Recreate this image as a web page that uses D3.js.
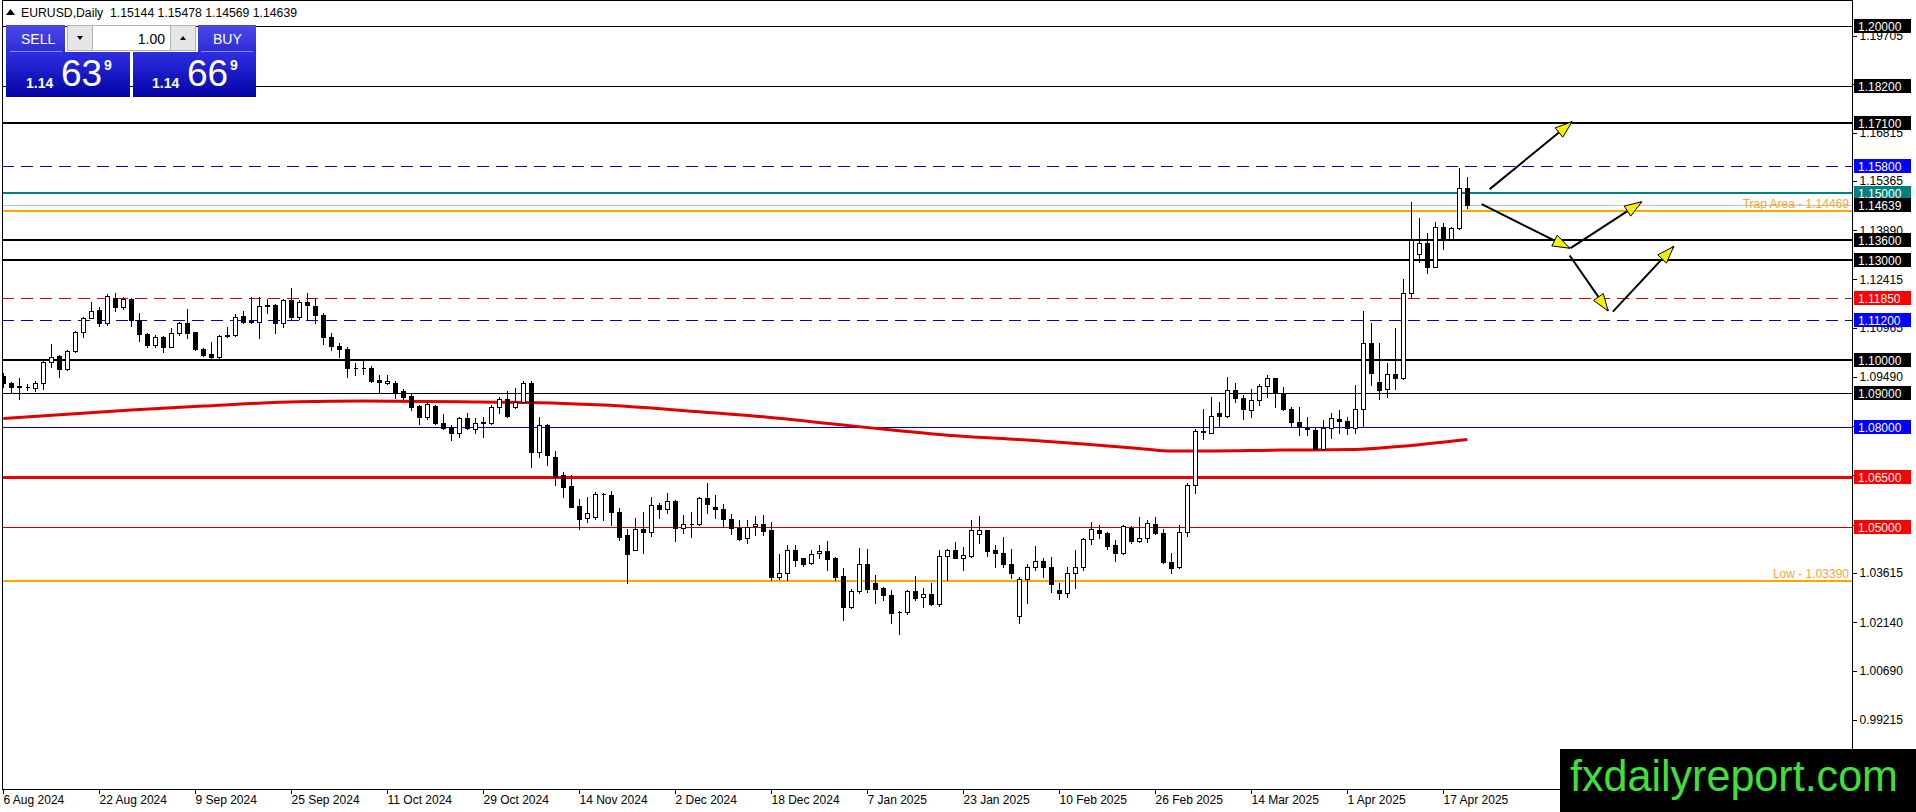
<!DOCTYPE html>
<html>
<head>
<meta charset="utf-8">
<script src="https://d3js.org/d3.v7.min.js"></script>
<style>
html, body { margin: 0; padding: 0; background: #fff; overflow: hidden; }
svg { display: block; font-family: "Liberation Sans", Arial, sans-serif; }
</style>
</head>
<body>
<svg id="chart" width="1916" height="812"></svg>
<script>
// EURUSD daily bars, 6 Aug 2024 .. 22 Apr 2025 (index = bar number)
const opens = [
  1.0952,1.0930,1.0920,1.0918,1.0915,1.0930,1.0993,1.1012,1.0972,1.1027,
  1.1083,1.1127,1.1150,1.1110,1.1187,1.1160,1.1182,1.1120,1.1077,1.1045,
  1.1070,1.1040,1.1080,1.1110,1.1083,1.1033,1.1017,1.1008,1.1073,1.1075,
  1.1132,1.1118,1.1115,1.1162,1.1164,1.1110,1.1180,1.1130,1.1175,1.1162,
  1.1135,1.1068,1.1043,1.1032,1.0976,1.0975,1.0975,1.0940,1.0930,1.0930,
  1.0907,1.0892,1.0862,1.0830,1.0862,1.0812,1.0800,1.0780,1.0825,1.0792,
  1.0812,1.0812,1.0858,1.0882,1.0858,1.0875,1.0932,1.0725,1.0805,1.0708,
  1.0655,1.0622,1.0562,1.0528,1.0530,1.0598,1.0595,1.0543,1.0475,1.0431,
  1.0493,1.0485,1.0565,1.0552,1.0577,1.0496,1.0508,1.0510,1.0585,1.0558,
  1.0552,1.0525,1.0497,1.0466,1.0503,1.0510,1.0491,1.0350,1.0362,1.0430,
  1.0407,1.0392,1.0422,1.0428,1.0407,1.0353,1.0259,1.0308,1.0388,1.0332,
  1.0317,1.0297,1.0245,1.0244,1.0308,1.0289,1.0298,1.0269,1.0413,1.0430,
  1.0408,1.0413,1.0478,1.0490,1.0431,1.0423,1.0390,1.0234,1.0343,1.0379,
  1.0399,1.0381,1.0311,1.0303,1.0361,1.0381,1.0463,1.0491,1.0483,1.0446,
  1.0421,1.0496,1.0459,1.0466,1.0510,1.0483,1.0396,1.0379,1.0485,1.0625,
  1.0788,1.0782,1.0840,1.0833,1.0910,1.0885,1.0850,1.0880,1.0922,1.0945,
  1.0902,1.0852,1.0813,1.0797,1.0790,1.0733,1.0795,1.0823,1.0817,1.0795,
  1.0852,1.1050,1.0933,1.0912,1.0957,1.0947,1.1200,1.1318,1.1350,1.1280,
  1.1398,1.1362,1.1397,1.15144
];
const highs = [
  1.0962,1.0935,1.0945,1.0927,1.0938,1.0998,1.1048,1.1015,1.1030,1.1087,
  1.1130,1.1173,1.1160,1.1197,1.1200,1.1190,1.1185,1.1140,1.1080,1.1075,
  1.1073,1.1095,1.1115,1.1152,1.1085,1.1035,1.1055,1.1075,1.1100,1.1138,
  1.1148,1.1190,1.1188,1.1182,1.1168,1.1182,1.1215,1.1180,1.1202,1.1185,
  1.1142,1.1082,1.1052,1.1040,1.0990,1.0997,1.0982,1.0955,1.0954,1.0937,
  1.0912,1.0898,1.0865,1.0870,1.0865,1.0838,1.0805,1.0830,1.0840,1.0825,
  1.0828,1.0864,1.0888,1.0907,1.0915,1.0938,1.0938,1.0828,1.0808,1.0728,
  1.0665,1.0655,1.0582,1.0590,1.0605,1.0602,1.0608,1.0555,1.0495,1.0528,
  1.0543,1.0590,1.0572,1.0600,1.0580,1.0535,1.0543,1.0590,1.0630,1.0595,
  1.0568,1.0538,1.0520,1.0520,1.0532,1.0534,1.0515,1.0420,1.0447,1.0445,
  1.0408,1.0432,1.0445,1.0457,1.0410,1.0376,1.0313,1.0436,1.0434,1.0355,
  1.0320,1.0312,1.0248,1.0311,1.0354,1.0316,1.0331,1.0430,1.0435,1.0455,
  1.0440,1.0520,1.0532,1.0492,1.0446,1.0469,1.0433,1.0349,1.0389,1.0443,
  1.0406,1.0411,1.0331,1.0381,1.0431,1.0466,1.0516,1.0506,1.0486,1.0461,
  1.0506,1.0503,1.0529,1.0520,1.0530,1.0493,1.0421,1.0505,1.0630,1.0792,
  1.0852,1.0888,1.0873,1.0948,1.0930,1.0895,1.0912,1.0928,1.0955,1.0947,
  1.0918,1.0860,1.0858,1.0830,1.0800,1.0820,1.0842,1.0850,1.0830,1.0925,
  1.1147,1.1110,1.1052,1.0990,1.1097,1.1242,1.1474,1.1427,1.1380,1.1415,
  1.1412,1.1398,1.1574,1.15478
];
const lows = [
  1.0920,1.0905,1.0882,1.0910,1.0908,1.0914,1.0980,1.0948,1.0970,1.1023,
  1.1070,1.1125,1.1102,1.1104,1.1148,1.1152,1.1103,1.1057,1.1040,1.1040,
  1.1025,1.1038,1.1075,1.1065,1.1030,1.1012,1.1005,1.1005,1.1070,1.1073,
  1.1110,1.1110,1.1067,1.1142,1.1082,1.1100,1.1120,1.1124,1.1122,1.1112,
  1.1047,1.1030,1.1008,1.0950,1.0954,1.0958,1.0935,1.0902,1.0927,1.0887,
  1.0882,1.0850,1.0808,1.0823,1.0808,1.0792,1.0760,1.0770,1.0792,1.0780,
  1.0768,1.0808,1.0842,1.0830,1.0855,1.0872,1.0680,1.0710,1.0685,1.0625,
  1.0590,1.0558,1.0495,1.0515,1.0525,1.0520,1.0505,1.0460,1.0332,1.0430,
  1.0422,1.0473,1.0528,1.0540,1.0458,1.0481,1.0470,1.0506,1.0542,1.0528,
  1.0500,1.0478,1.0461,1.0453,1.0475,1.0475,1.0341,1.0344,1.0342,1.0383,
  1.0383,1.0390,1.0408,1.0370,1.0341,1.0221,1.0256,1.0303,1.0306,1.0273,
  1.0282,1.0212,1.0178,1.0238,1.0281,1.0261,1.0265,1.0264,1.0340,1.0406,
  1.0371,1.0410,1.0452,1.0413,1.0381,1.0379,1.0346,1.0211,1.0271,1.0371,
  1.0351,1.0306,1.0285,1.0291,1.0316,1.0371,1.0449,1.0466,1.0434,1.0399,
  1.0419,1.0451,1.0456,1.0456,1.0479,1.0393,1.0361,1.0376,1.0473,1.0600,
  1.0764,1.0780,1.0802,1.0830,1.0875,1.0822,1.0830,1.0865,1.0890,1.0860,
  1.0850,1.0800,1.0775,1.0775,1.0732,1.0732,1.0765,1.0782,1.0778,1.0780,
  1.0802,1.0925,1.0882,1.0888,1.0912,1.0942,1.1190,1.1295,1.1262,1.1278,
  1.1333,1.1360,1.1392,1.14569
];
const closes = [
  1.0930,1.0920,1.0922,1.0920,1.0930,1.0993,1.1008,1.0972,1.1027,1.1083,
  1.1127,1.1148,1.1110,1.1192,1.1160,1.1182,1.1120,1.1077,1.1045,1.1070,
  1.1040,1.1080,1.1110,1.1082,1.1033,1.1015,1.1008,1.1073,1.1075,1.1130,
  1.1113,1.1113,1.1162,1.1164,1.1110,1.1180,1.1130,1.1175,1.1165,1.1135,
  1.1068,1.1043,1.1032,1.0975,1.0975,1.0976,1.0938,1.0933,1.0937,1.0905,
  1.0890,1.0860,1.0830,1.0867,1.0812,1.0797,1.0780,1.0825,1.0795,1.0812,
  1.0813,1.0858,1.0882,1.0832,1.0875,1.0932,1.0725,1.0805,1.0715,1.0650,
  1.0620,1.0560,1.0525,1.0540,1.0598,1.0597,1.0543,1.0470,1.0418,1.0495,
  1.0485,1.0565,1.0552,1.0577,1.0496,1.0508,1.0510,1.0585,1.0567,1.0552,
  1.0525,1.0496,1.0464,1.0501,1.0510,1.0489,1.0349,1.0362,1.0430,1.0402,
  1.0388,1.0420,1.0428,1.0404,1.0349,1.0259,1.0308,1.0388,1.0314,1.0315,
  1.0297,1.0243,1.0244,1.0308,1.0288,1.0298,1.0269,1.0413,1.0430,1.0408,
  1.0415,1.0492,1.0490,1.0429,1.0421,1.0390,1.0361,1.0343,1.0379,1.0399,
  1.0381,1.0328,1.0303,1.0361,1.0381,1.0463,1.0493,1.0483,1.0444,1.0421,
  1.0503,1.0459,1.0466,1.0513,1.0483,1.0396,1.0376,1.0485,1.0625,1.0788,
  1.0783,1.0833,1.0833,1.0910,1.0885,1.0852,1.0880,1.0922,1.0945,1.0902,
  1.0852,1.0813,1.0800,1.0792,1.0733,1.0795,1.0825,1.0817,1.0795,1.0852,
  1.1050,1.0960,1.0910,1.0957,1.0947,1.1200,1.1360,1.1350,1.1280,1.1398,
  1.1362,1.1395,1.1514,1.14639
];

// moving average, read at a few bars
const maBars = [0, 16, 25, 37, 45, 57, 70, 75, 87, 95, 105, 112, 119, 128, 135, 142, 146, 148, 160, 169, 174, 183];
const maValues = [1.0825, 1.0850, 1.0862, 1.0875, 1.0877, 1.0875, 1.0870, 1.0865, 1.0845, 1.0830, 1.0805, 1.0788,
  1.0773, 1.0760, 1.0748, 1.0735, 1.0727, 1.0727, 1.0730, 1.0732, 1.0740, 1.0762];

const dateLabels = ["6 Aug 2024", "22 Aug 2024", "9 Sep 2024", "25 Sep 2024", "11 Oct 2024", "29 Oct 2024",
  "14 Nov 2024", "2 Dec 2024", "18 Dec 2024", "7 Jan 2025", "23 Jan 2025", "10 Feb 2025", "26 Feb 2025",
  "14 Mar 2025", "1 Apr 2025", "17 Apr 2025"];
const dateLabelBars = [0, 12, 24, 36, 48, 60, 72, 84, 96, 108, 120, 132, 144, 156, 168, 180];

const priceTicks = [1.19705, 1.18260, 1.16815, 1.15365, 1.13890, 1.12415, 1.10965, 1.09490,
  1.08015, 1.06540, 1.05065, 1.03615, 1.02140, 1.00690, 0.99215];

// horizontal levels drawn on the chart
const levels = [1.20, 1.182, 1.171, 1.158, 1.15, 1.14639, 1.14469, 1.136, 1.13, 1.1185, 1.112,
  1.10, 1.09, 1.08, 1.065, 1.05, 1.0339];
const levelNotes = ["", "", "", "", "", "", "Trap Area - 1.14469", "", "", "", "", "", "", "", "", "", "Low - 1.03390"];

// scenario arrows [bar, price]
const arrowFrom = [[185.8, 1.1512], [184.8, 1.1467], [195.9, 1.1335], [195.8, 1.1313], [201.2, 1.1145]];
const arrowTo = [[196.1, 1.1714], [195.8, 1.1335], [204.8, 1.1474], [200.6, 1.1147], [208.8, 1.1340]];

const headerText = "EURUSD,Daily  1.15144 1.15478 1.14569 1.14639";

// styles for each level (same order as levels)
const levelStyle = [
  { c: "#000", w: 1, box: "#000" },
  { c: "#000", w: 1, box: "#000" },
  { c: "#000", w: 2, box: "#000" },
  { c: "#0000c8", w: 1, dash: "12,7", box: "#0000ff" },
  { c: "#008080", w: 2, box: "#008080" },
  { c: "#c0c0c0", w: 1, box: "#000" },
  { c: "#ffa500", w: 2 },
  { c: "#000", w: 2, box: "#000" },
  { c: "#000", w: 2, box: "#000" },
  { c: "#d00000", w: 1, dash: "12,7", box: "#ff0000" },
  { c: "#0000c8", w: 1, dash: "12,7", box: "#0000ff" },
  { c: "#000", w: 2, box: "#000" },
  { c: "#000", w: 1, box: "#000" },
  { c: "#0000c8", w: 1, box: "#0000ff" },
  { c: "#ee0000", w: 3, box: "#ff0000" },
  { c: "#cc0000", w: 1, box: "#ff0000" },
  { c: "#ffa500", w: 2 }
];

const svg = d3.select("#chart");
const plot = { left: 2, right: 1852, top: 1, bottom: 789 };

const x = d3.scaleLinear().domain([0, 183]).range([3.3, 1467.3]);
const y = d3.scaleLinear().domain([0.97144, 1.20758]).range([plot.bottom, plot.top]);

svg.append("rect").attr("width", 1916).attr("height", 812).attr("fill", "#fff");

const defs = svg.append("defs");
defs.append("clipPath").attr("id", "clip")
  .append("rect")
  .attr("x", plot.left).attr("y", plot.top)
  .attr("width", plot.right - plot.left).attr("height", plot.bottom - plot.top);

function grad(id, top, bottom) {
  const g = defs.append("linearGradient").attr("id", id)
    .attr("x1", 0).attr("y1", 0).attr("x2", 0).attr("y2", 1);
  g.append("stop").attr("offset", "0%").attr("stop-color", top);
  g.append("stop").attr("offset", "100%").attr("stop-color", bottom);
}
grad("btnGrad", "#4a4ae8", "#2c2cd6");
grad("boxGrad", "#2f2fe2", "#0303a6");

const g = svg.append("g").attr("clip-path", "url(#clip)");

// level lines
const levelData = levels.map((v, i) => ({ v, s: levelStyle[i], note: levelNotes[i] }));
g.selectAll("line.level")
  .data(levelData)
  .join("line")
  .attr("class", "level")
  .attr("x1", plot.left).attr("x2", plot.right)
  .attr("y1", (d) => Math.round(y(d.v)) + (d.s.w % 2 ? 0.5 : 0))
  .attr("y2", (d) => Math.round(y(d.v)) + (d.s.w % 2 ? 0.5 : 0))
  .attr("stroke", (d) => d.s.c)
  .attr("stroke-width", (d) => d.s.w)
  .attr("stroke-dasharray", (d) => d.s.dash || null)
  .attr("shape-rendering", "crispEdges");

// moving average
const maLine = d3.line()
  .x((d) => x(d[0]))
  .y((d) => y(d[1]))
  .curve(d3.curveMonotoneX);
g.append("path")
  .datum(maBars.map((b, i) => [b, maValues[i]]))
  .attr("d", maLine)
  .attr("fill", "none")
  .attr("stroke", "#e00000")
  .attr("stroke-width", 3);

// candles
const bars = opens.map((o, i) => ({ i, o, h: highs[i], l: lows[i], c: closes[i] }));
const cx = (d) => Math.round(x(d.i));

g.selectAll("line.wick")
  .data(bars)
  .join("line")
  .attr("class", "wick")
  .attr("x1", (d) => cx(d) + 0.5).attr("x2", (d) => cx(d) + 0.5)
  .attr("y1", (d) => Math.round(y(d.h)))
  .attr("y2", (d) => Math.round(y(d.l)) + 1)
  .attr("stroke", "#000")
  .attr("shape-rendering", "crispEdges");

g.selectAll("path.body")
  .data(bars)
  .join("path")
  .attr("class", "body")
  .attr("d", (d) => {
    const top = Math.round(y(Math.max(d.o, d.c))) + 0.5;
    const bot = Math.round(y(Math.min(d.o, d.c))) + 0.5;
    const left = cx(d) - 1.5;
    return `M${left},${top}h4V${bot}h-4Z`;
  })
  .attr("fill", (d) => (d.c > d.o ? "#fff" : "#000"))
  .attr("stroke", "#000")
  .attr("shape-rendering", "crispEdges");

// level notes
g.selectAll("text.note")
  .data(levelData.filter((d) => d.note))
  .join("text")
  .attr("class", "note")
  .attr("x", plot.right - 3)
  .attr("y", (d) => y(d.v) - 3)
  .attr("text-anchor", "end")
  .attr("font-size", 12)
  .attr("fill", "#f4a63a")
  .text((d) => d.note);

// arrows
const arrows = arrowFrom.map((f, i) => ({ a: [x(f[0]), y(f[1])], b: [x(arrowTo[i][0]), y(arrowTo[i][1])] }));
const ag = g.selectAll("g.arrow").data(arrows).join("g").attr("class", "arrow");
ag.append("line")
  .attr("x1", (d) => d.a[0]).attr("y1", (d) => d.a[1])
  .attr("x2", (d) => d.b[0]).attr("y2", (d) => d.b[1])
  .attr("stroke", "#000").attr("stroke-width", 2);
ag.append("path")
  .attr("d", (d) => {
    const dx = d.b[0] - d.a[0], dy = d.b[1] - d.a[1];
    const len = Math.hypot(dx, dy), ux = dx / len, uy = dy / len;
    const L = 17, Wd = 6;
    const bx = d.b[0] - ux * L, by = d.b[1] - uy * L;
    return `M${d.b[0]},${d.b[1]}L${bx - uy * Wd},${by + ux * Wd}L${bx + uy * Wd},${by - ux * Wd}Z`;
  })
  .attr("fill", "#f2f200")
  .attr("stroke", "#000")
  .attr("stroke-width", 1);

// frame and axes
svg.append("rect")
  .attr("x", plot.left + 0.5).attr("y", plot.top - 0.5)
  .attr("width", plot.right - plot.left).attr("height", plot.bottom - plot.top + 1)
  .attr("fill", "none").attr("stroke", "#000")
  .attr("shape-rendering", "crispEdges");

const yAxis = d3.axisRight(y)
  .tickValues(priceTicks)
  .tickSize(4)
  .tickPadding(3)
  .tickFormat(d3.format(".5f"));
const ya = svg.append("g")
  .attr("transform", `translate(${plot.right + 0.5},0)`)
  .call(yAxis);
ya.select(".domain").remove();
ya.selectAll("line").attr("stroke", "#000").attr("shape-rendering", "crispEdges");
ya.selectAll("text").attr("font-size", 12).attr("fill", "#000")
  .attr("font-family", "Liberation Sans, Arial, sans-serif");

const xAxis = d3.axisBottom(x)
  .tickValues(dateLabelBars)
  .tickSize(4)
  .tickFormat((d, i) => dateLabels[i]);
const xa = svg.append("g")
  .attr("transform", `translate(0,${plot.bottom + 0.5})`)
  .call(xAxis);
xa.select(".domain").remove();
xa.selectAll(".tick").attr("transform", (d) => `translate(${Math.round(x(d)) + 0.5},0)`);
xa.selectAll("line").attr("stroke", "#000").attr("shape-rendering", "crispEdges");
xa.selectAll("text")
  .attr("text-anchor", "start")
  .attr("x", 0)
  .attr("y", 6)
  .attr("dy", "0.71em")
  .attr("font-size", 12)
  .attr("fill", "#000")
  .attr("font-family", "Liberation Sans, Arial, sans-serif");

// price boxes for levels
const boxes = svg.append("g").selectAll("g")
  .data(levelData.filter((d) => d.s.box))
  .join("g")
  .attr("transform", (d) => `translate(${plot.right + 2},${Math.round(y(d.v))})`);
boxes.append("rect")
  .attr("x", 0).attr("y", -7).attr("width", 57).attr("height", 14)
  .attr("fill", (d) => d.s.box);
boxes.append("text")
  .attr("x", 4).attr("y", 4.5)
  .attr("font-size", 12)
  .attr("fill", "#fff")
  .text((d) => d.v.toFixed(5));

// header
svg.append("path").attr("d", "M6,15L10.5,9L15,15Z").attr("fill", "#000");
svg.append("text")
  .attr("x", 21).attr("y", 17)
  .attr("font-size", 12)
  .attr("textLength", 276)
  .attr("lengthAdjust", "spacingAndGlyphs")
  .attr("fill", "#000")
  .attr("xml:space", "preserve")
  .style("white-space", "pre")
  .text(headerText);

// one click trading panel
const panel = svg.append("g");
panel.append("rect").attr("x", 6).attr("y", 25).attr("width", 59).attr("height", 27).attr("fill", "url(#btnGrad)");
panel.append("rect").attr("x", 198).attr("y", 25).attr("width", 58).attr("height", 27).attr("fill", "url(#btnGrad)");
panel.append("rect").attr("x", 6).attr("y", 52).attr("width", 124).attr("height", 45).attr("fill", "url(#boxGrad)");
panel.append("rect").attr("x", 133).attr("y", 52).attr("width", 123).attr("height", 45).attr("fill", "url(#boxGrad)");
panel.append("line").attr("x1", 10).attr("x2", 62).attr("y1", 51.5).attr("y2", 51.5).attr("stroke", "#8a8af0");
panel.append("line").attr("x1", 201).attr("x2", 253).attr("y1", 51.5).attr("y2", 51.5).attr("stroke", "#8a8af0");
panel.append("rect").attr("x", 67.5).attr("y", 25.5).attr("width", 128).attr("height", 25)
  .attr("fill", "#fff").attr("stroke", "#b4b4b4");
panel.append("rect").attr("x", 67.5).attr("y", 25.5).attr("width", 25).attr("height", 25)
  .attr("fill", "#e6e6e6").attr("stroke", "#b4b4b4");
panel.append("rect").attr("x", 170.5).attr("y", 25.5).attr("width", 25).attr("height", 25)
  .attr("fill", "#e6e6e6").attr("stroke", "#b4b4b4");
panel.append("path").attr("d", "M77,36L83,36L80,40Z").attr("fill", "#000");
panel.append("path").attr("d", "M180,40L186,40L183,36Z").attr("fill", "#000");
panel.append("text").attr("x", 165).attr("y", 44).attr("text-anchor", "end")
  .attr("font-size", 14).attr("fill", "#000").text("1.00");
panel.append("text").attr("x", 21).attr("y", 44).attr("font-size", 14).attr("fill", "#fff").text("SELL");
panel.append("text").attr("x", 213).attr("y", 44).attr("font-size", 14).attr("fill", "#fff").text("BUY");

const quotes = [
  { x: 26, big: "63", small: "9" },
  { x: 152, big: "66", small: "9" }
];
quotes.forEach((q) => {
  panel.append("text").attr("x", q.x).attr("y", 88).attr("font-size", 14).attr("font-weight", "bold")
    .attr("fill", "#fff").text("1.14");
  panel.append("text").attr("x", q.x + 35).attr("y", 86).attr("font-size", 37)
    .attr("fill", "#fff").text(q.big);
  panel.append("text").attr("x", q.x + 78).attr("y", 70).attr("font-size", 14).attr("font-weight", "bold")
    .attr("fill", "#fff").text(q.small);
});

// watermark
svg.append("rect").attr("x", 1560).attr("y", 749).attr("width", 356).attr("height", 63).attr("fill", "#000");
svg.append("text")
  .attr("x", 1570).attr("y", 791)
  .attr("font-size", 44)
  .attr("textLength", 328)
  .attr("lengthAdjust", "spacingAndGlyphs")
  .attr("fill", "#3fe03a")
  .text("fxdailyreport.com");
</script>
</body>
</html>
